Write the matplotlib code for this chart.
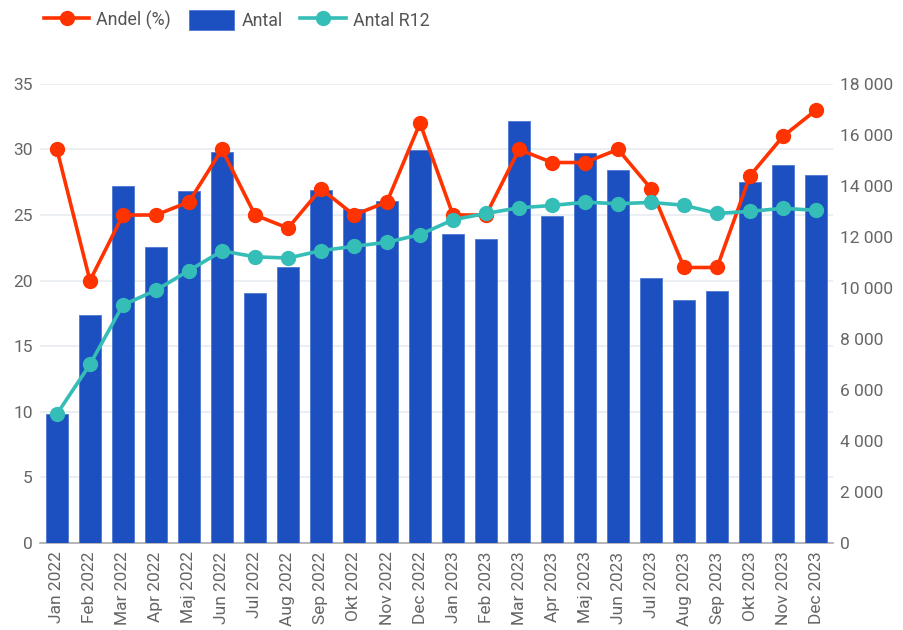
import matplotlib
matplotlib.use("Agg")
import matplotlib.pyplot as plt
from matplotlib.ticker import FuncFormatter

plt.rcParams['font.family'] = ['Roboto', 'DejaVu Sans']

months = ["Jan 2022", "Feb 2022", "Mar 2022", "Apr 2022", "Maj 2022", "Jun 2022",
          "Jul 2022", "Aug 2022", "Sep 2022", "Okt 2022", "Nov 2022", "Dec 2022",
          "Jan 2023", "Feb 2023", "Mar 2023", "Apr 2023", "Maj 2023", "Jun 2023",
          "Jul 2023", "Aug 2023", "Sep 2023", "Okt 2023", "Nov 2023", "Dec 2023"]

# bars, right axis
antal = [5060, 8940, 14000, 11620, 13780, 15320, 9800, 10810, 13820, 13100, 13410, 15390,
         12100, 11930, 16540, 12810, 15270, 14640, 10390, 9530, 9880, 14140, 14800, 14410]

# rolling 12 month average, right axis
antal_r12 = [5060, 7000, 9330, 9910, 10680, 11450, 11220, 11170, 11460, 11630, 11790, 12090,
             12670, 12920, 13140, 13230, 13360, 13300, 13350, 13240, 12920, 13000, 13120, 13040]

# share in percent, left axis
andel = [30, 20, 25, 25, 26, 30, 25, 24, 27, 25, 26, 32,
         25, 25, 30, 29, 29, 30, 27, 21, 21, 28, 31, 33]

blue = '#1c4fc0'
red = '#ff3300'
teal = '#35bdb8'
grey = '#666666'
fs = 12.5

fig = plt.figure(figsize=(9.04, 6.3), dpi=100)
ax = fig.add_axes([0.044, 0.138, 0.877, 0.729])
x = list(range(len(months)))

# base axis: left labels + grid
ax.set_ylim(0, 35)
ax.set_yticks(range(0, 36, 5))
ax.grid(axis='y', color='#e8ebf0', lw=1.2)
ax.set_axisbelow(True)
for s in ['top', 'right', 'left']:
    ax.spines[s].set_visible(False)
ax.spines['bottom'].set_color('#aaaaaa')
ax.spines['bottom'].set_linewidth(1.2)
ax.tick_params(axis='y', length=0, labelsize=fs, labelcolor=grey, pad=5)
ax.tick_params(axis='x', length=0, labelsize=fs, labelcolor=grey, pad=6)
ax.set_xticks(x)
ax.set_xticklabels(months, rotation=90)

# bars on right scale
ax2 = ax.twinx()
bars = ax2.bar(x, antal, width=0.66, color=blue, edgecolor='#5078d2', lw=0.6, label='Antal')
ax2.set_ylim(0, 18000)
ax2.set_yticks(range(0, 18001, 2000))
ax2.yaxis.set_major_formatter(FuncFormatter(lambda v, p: f"{int(v):,}".replace(",", " ")))
ax2.tick_params(axis='y', length=0, labelsize=fs, labelcolor=grey, pad=5)
for s in ax2.spines.values():
    s.set_visible(False)

# red line on left scale
ax3 = ax.twinx()
ax3.set_ylim(0, 35)
ax3.axis('off')
l1, = ax3.plot(x, andel, color=red, lw=2.6, marker='o', ms=10, label='Andel (%)')

# teal line on right scale
ax4 = ax.twinx()
ax4.set_ylim(0, 18000)
ax4.axis('off')
l2, = ax4.plot(x, antal_r12, color=teal, lw=2.6, marker='o', ms=10, label='Antal R12')

ax.set_xlim(-0.52, 23.5)

leg = fig.legend(handles=[l1, bars, l2], labels=['Andel (%)', 'Antal', 'Antal R12'],
                 loc='upper left', bbox_to_anchor=(0.031, 1.01), ncol=3, frameon=False,
                 fontsize=12.8, handlelength=2.55, handleheight=1.35, columnspacing=1.0,
                 handletextpad=0.4, labelcolor='#555555')

fig.savefig('out.png', dpi=100)
